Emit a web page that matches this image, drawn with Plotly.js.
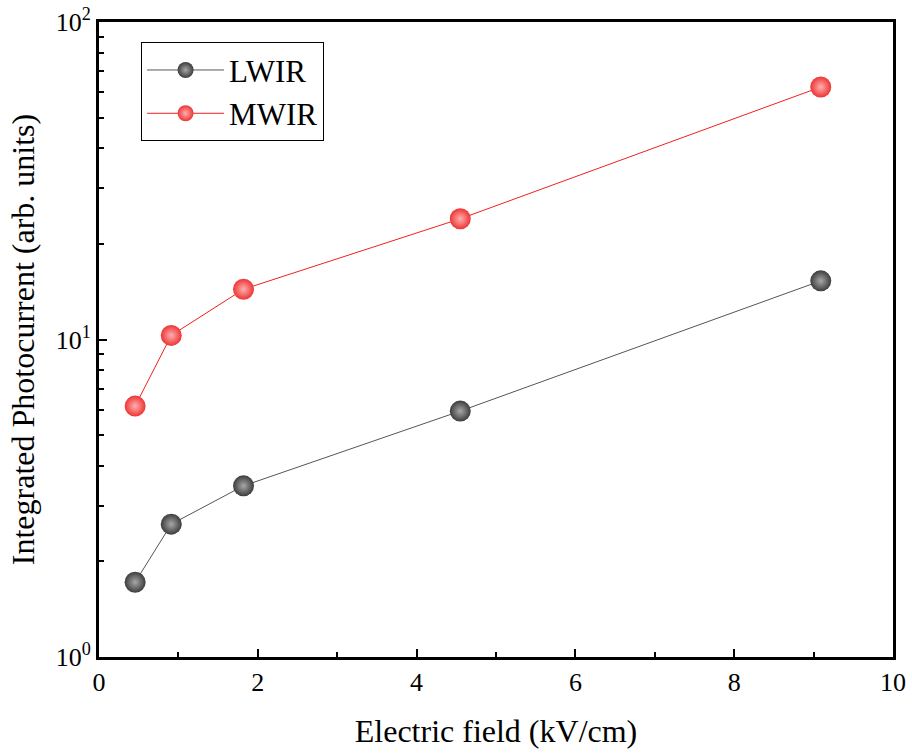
<!DOCTYPE html>
<html>
<head>
<meta charset="utf-8">
<script src="https://cdn.plot.ly/plotly-3.0.1.min.js"></script>
<style>html,body{margin:0;padding:0;background:#fff;}</style>
</head>
<body>
<div id="chart" style="width:912px;height:753px;"></div>
<script>
const fieldX = [0.455, 0.91, 1.82, 4.55, 9.09];
const lwirY = [1.72, 2.62, 3.46, 5.95, 15.3];
const mwirY = [6.17, 10.3, 14.4, 24.0, 62.4];
const yTickVals = [1, 10, 100];
const yTickText = ['10<sup>0</sup>', '10<sup>1</sup>', '10<sup>2</sup>'];
const yMinorVals = [2,3,4,5,6,7,8,9,20,30,40,50,60,70,80,90];

const font = {family: 'Liberation Serif, Times New Roman, serif', color: '#000'};

const traces = [
  {
    x: fieldX, y: lwirY, name: 'LWIR', type: 'scatter', mode: 'lines+markers',
    line: {color: '#555555', width: 1},
    marker: {size: 21, color: '#3c3c3c', gradient: {type: 'radial', color: '#a8a8a8'}, line: {width: 0}}
  },
  {
    x: fieldX, y: mwirY, name: 'MWIR', type: 'scatter', mode: 'lines+markers',
    line: {color: '#f02020', width: 1},
    marker: {size: 21, color: '#ee3434', gradient: {type: 'radial', color: '#ffb0b0'}, line: {width: 0}}
  }
];

const layout = {
  width: 912, height: 753,
  margin: {l: 99, r: 19, t: 22, b: 96},
  paper_bgcolor: '#fff', plot_bgcolor: '#fff',
  font: Object.assign({size: 26}, font),
  showlegend: true,
  legend: {
    x: 0.053, y: 0.968, xanchor: 'left', yanchor: 'top',
    bordercolor: '#000', borderwidth: 1, bgcolor: '#fff',
    font: Object.assign({size: 31}, font),
    itemwidth: 77, tracegroupgap: 0
  },
  xaxis: {
    range: [0, 10], dtick: 2, tick0: 0,
    ticks: 'inside', ticklen: 8, tickwidth: 2, tickcolor: '#000',
    minor: {dtick: 1, ticks: 'inside', ticklen: 5, tickwidth: 2, tickcolor: '#000'},
    showline: true, linewidth: 3, linecolor: '#000', mirror: true,
    showgrid: false, zeroline: false,
    tickfont: Object.assign({size: 26}, font),
    title: {text: 'Electric field (kV/cm)', font: Object.assign({size: 32}, font), standoff: 24}
  },
  yaxis: {
    type: 'log', range: [0, 2],
    tickmode: 'array', tickvals: yTickVals, ticktext: yTickText,
    ticks: 'inside', ticklen: 8, tickwidth: 2, tickcolor: '#000',
    minor: {tickmode: 'array', tickvals: yMinorVals, ticks: 'inside', ticklen: 5, tickwidth: 2, tickcolor: '#000'},
    showline: true, linewidth: 3, linecolor: '#000', mirror: true,
    showgrid: false, zeroline: false,
    tickfont: Object.assign({size: 26}, font),
    title: {text: 'Integrated Photocurrent (arb. units)', font: Object.assign({size: 32}, font), standoff: 12}
  }
};

Plotly.newPlot('chart', traces, layout, {displayModeBar: false, staticPlot: true});
</script>
</body>
</html>
